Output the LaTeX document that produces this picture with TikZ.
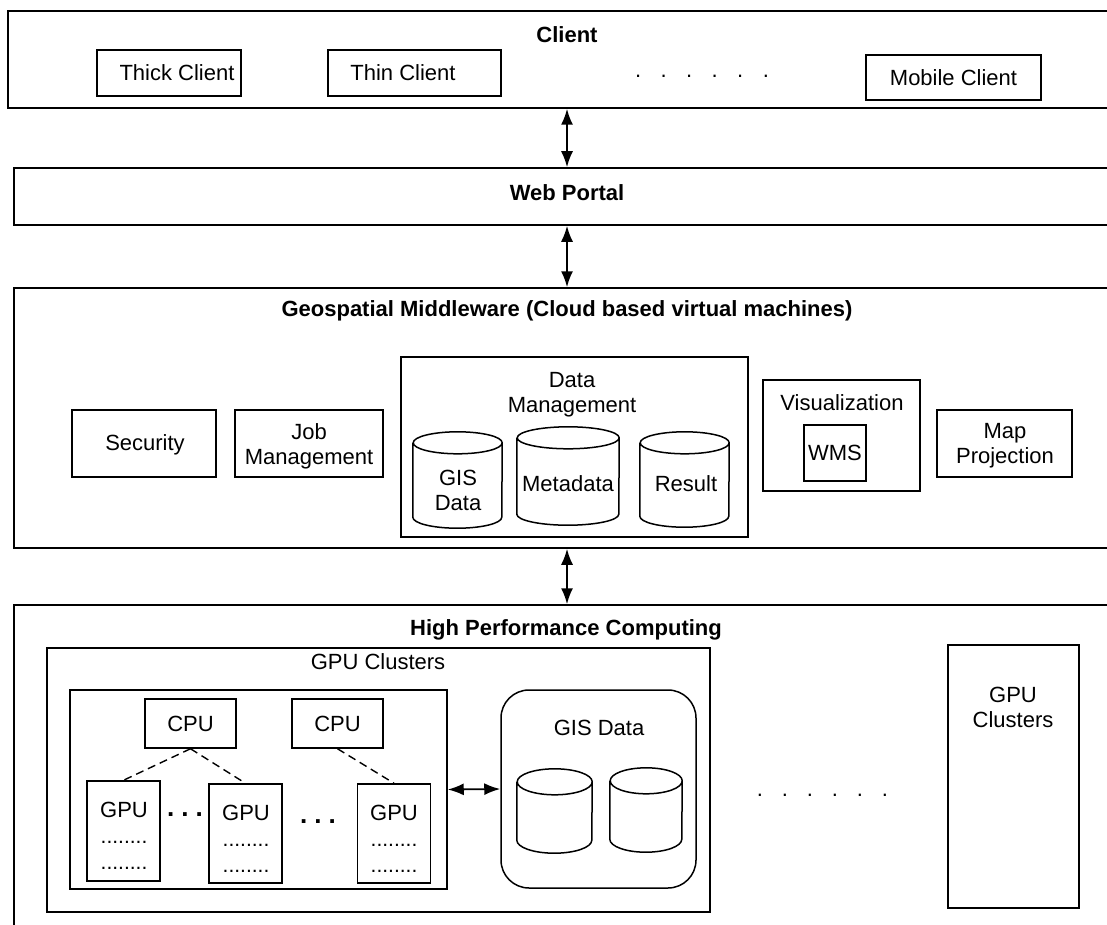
\documentclass[tikz,border=0pt]{standalone}
\usepackage{fontspec}
\setmainfont{Liberation Sans}
\usetikzlibrary{arrows.meta,calc}

% cylinder outline drawn over a (borderless) node: name, x radius, y radius
\newcommand\dbcylinder[3]{%
  \draw[cylline] ([yshift=-#3]#1.north west) -- ([yshift=#3]#1.south west)
    arc[start angle=180,end angle=360,x radius=#2,y radius=#3]
    -- ([yshift=-#3]#1.north east)
    arc[start angle=0,end angle=180,x radius=#2,y radius=#3]
    arc[start angle=180,end angle=360,x radius=#2,y radius=#3];
}

\begin{document}
\begin{tikzpicture}[x=1pt,y=1pt,
  every node/.style={font=\fontsize{22}{25}\selectfont},
  box/.style={draw, line width=1.5pt, inner sep=0pt, align=center},
  lbl/.style={inner sep=0pt, align=center},
  title/.style={lbl, font=\fontsize{22}{25}\selectfont\bfseries},
  cylnode/.style={inner sep=0pt, align=center},
  cylline/.style={line width=1.5pt},
  dbl/.style={{Latex[length=16pt,width=12pt]}-{Latex[length=16pt,width=12pt]}, line width=1.8pt},
  gpulink/.style={line width=1.4pt, dash pattern=on 8pt off 5pt},
  dotrow/.style={lbl, font=\fontsize{21}{21}\selectfont},
  bigdots/.style={lbl, font=\fontsize{26}{26}\selectfont\bfseries}
]
\useasboundingbox (0,0) rectangle (1107,-925);

\coordinate (ax) at (567,0);

% ---------------- Client tier ----------------
\node[box, minimum width=1104, minimum height=97] (client) at (560,-59.5) {};
\node[title] (clientlbl) at (567,-35) {Client};
\node[box, minimum width=144, minimum height=46] (thick) at (169,-73) {};
\node[lbl] (thicklbl) at (177,-73) {Thick Client};
\node[box, minimum width=173, minimum height=46] (thin) at (414.5,-73) {};
\node[lbl] (thinlbl) at (403,-73) {Thin Client};
\node[lbl] (cdots) at (702,-76) {.\hspace{19.4pt}.\hspace{19.4pt}.\hspace{19.4pt}.\hspace{19.4pt}.\hspace{19.4pt}.};
\node[box, minimum width=175, minimum height=45] (mobile) at (953.5,-77.5) {Mobile Client};

% ---------------- Web portal ----------------
\node[box, minimum width=1098, minimum height=57] (portal) at (563,-196.5) {};
\node[title] (portallbl) at (567,-193) {Web Portal};

% ---------------- Middleware ----------------
\node[box, minimum width=1098, minimum height=260] (mw) at (563,-418) {};
\node[title] (mwlbl) at (567,-311) {Geospatial Middleware (Cloud based virtual machines)};

\node[box, minimum width=144, minimum height=67] (security) at (144,-443.5) {};
\node[lbl] (securitylbl) at (145,-445) {Security};
\node[box, minimum width=148, minimum height=67] (job) at (309,-443.5) {};
\node[lbl] (joblbl) at (309,-446) {Job\\Management};

\node[box, minimum width=347, minimum height=180] (dm) at (574.5,-447) {};
\node[lbl] (dmlbl) at (572,-395) {Data\\Management};
\node[cylnode, minimum width=89, minimum height=96] (gisdb) at (457.5,-480) {};
\node[cylnode, minimum width=102, minimum height=98] (meta) at (568,-476) {};
\node[cylnode, minimum width=89, minimum height=95] (result) at (684.5,-479.5) {};
\dbcylinder{gisdb}{44.5}{11}
\dbcylinder{meta}{51}{11}
\dbcylinder{result}{44.5}{11}
\node[lbl] at (458,-490) {GIS\\Data};
\node[lbl] at (568,-484) {Metadata};
\node[lbl] at (686,-484) {Result};

\node[box, minimum width=157, minimum height=111] (viz) at (841.5,-435.5) {};
\node[lbl] (vizlbl) at (842,-403) {Visualization};
\node[box, minimum width=62, minimum height=56] (wms) at (835,-453) {WMS};
\node[box, minimum width=135, minimum height=67] (mapproj) at (1004.5,-443.5) {};
\node[lbl] (mapprojlbl) at (1005,-446) {Map\\Projection};

% ---------------- High performance computing ----------------
\node[box, minimum width=1098, minimum height=330] (hpc) at (563,-770) {};
\node[title] (hpclbl) at (566,-630) {High Performance Computing};

\node[box, minimum width=663, minimum height=264] (cluster) at (378.5,-780) {};
\node[lbl] (clusterlbl) at (378,-662) {GPU Clusters};

\node[box, minimum width=377, minimum height=199] (nodes) at (258.5,-789.5) {};
\node[box, minimum width=91, minimum height=49] (cpu1) at (190.5,-723.5) {CPU};
\node[box, minimum width=91, minimum height=49] (cpu2) at (337.5,-723.5) {CPU};
\node[box, minimum width=73, minimum height=100] (gpu1) at (123.5,-831) {};
\node[box, minimum width=73, minimum height=99] (gpu2) at (245.5,-833.5) {};
\node[box, minimum width=73, minimum height=99] (gpu3) at (394,-833.5) {};

\foreach \g/\x/\y in {gpu1/124/810, gpu2/246/813, gpu3/394/813}{
  \node[lbl] (\g t) at (\x,-\y) {GPU};
  \node[dotrow] at (\x,-\y-32) {........};
  \node[dotrow] at (\x,-\y-58) {........};
}
\node[bigdots] (gdots1) at (185,-815) {.\hspace{7pt}.\hspace{7pt}.};
\node[bigdots] (gdots2) at (318,-822) {.\hspace{7pt}.\hspace{7pt}.};

\draw[gpulink] (cpu1.south) -- (gpu1.north);
\draw[gpulink] (cpu1.south) -- (gpu2.north);
\draw[gpulink] (cpu2.south) -- (gpu3.north);

\node[box, rounded corners=28pt, minimum width=195, minimum height=198] (gisbox) at (598.5,-789) {};
\node[lbl] (gisboxlbl) at (599,-728) {GIS Data};
\node[cylnode, minimum width=75, minimum height=84] (store1) at (554.5,-811) {};
\node[cylnode, minimum width=72, minimum height=84] (store2) at (646,-810) {};
\dbcylinder{store1}{37.5}{13}
\dbcylinder{store2}{36}{13}

\draw[dbl] (nodes.east) -- (gisbox.west);

\node[lbl] (hdots) at (822.5,-795) {.\hspace{18.9pt}.\hspace{18.9pt}.\hspace{18.9pt}.\hspace{18.9pt}.\hspace{18.9pt}.};
\node[box, minimum width=131, minimum height=263] (cluster2) at (1013.5,-776.5) {};
\node[lbl] (cluster2lbl) at (1013,-707) {GPU\\Clusters};

% ---------------- Links between tiers ----------------
\draw[dbl] (ax |- client.south) -- (ax |- portal.north);
\draw[dbl] (ax |- portal.south) -- (ax |- mw.north);
\draw[dbl] (ax |- mw.south) -- (ax |- hpc.north);
\end{tikzpicture}
\end{document}
